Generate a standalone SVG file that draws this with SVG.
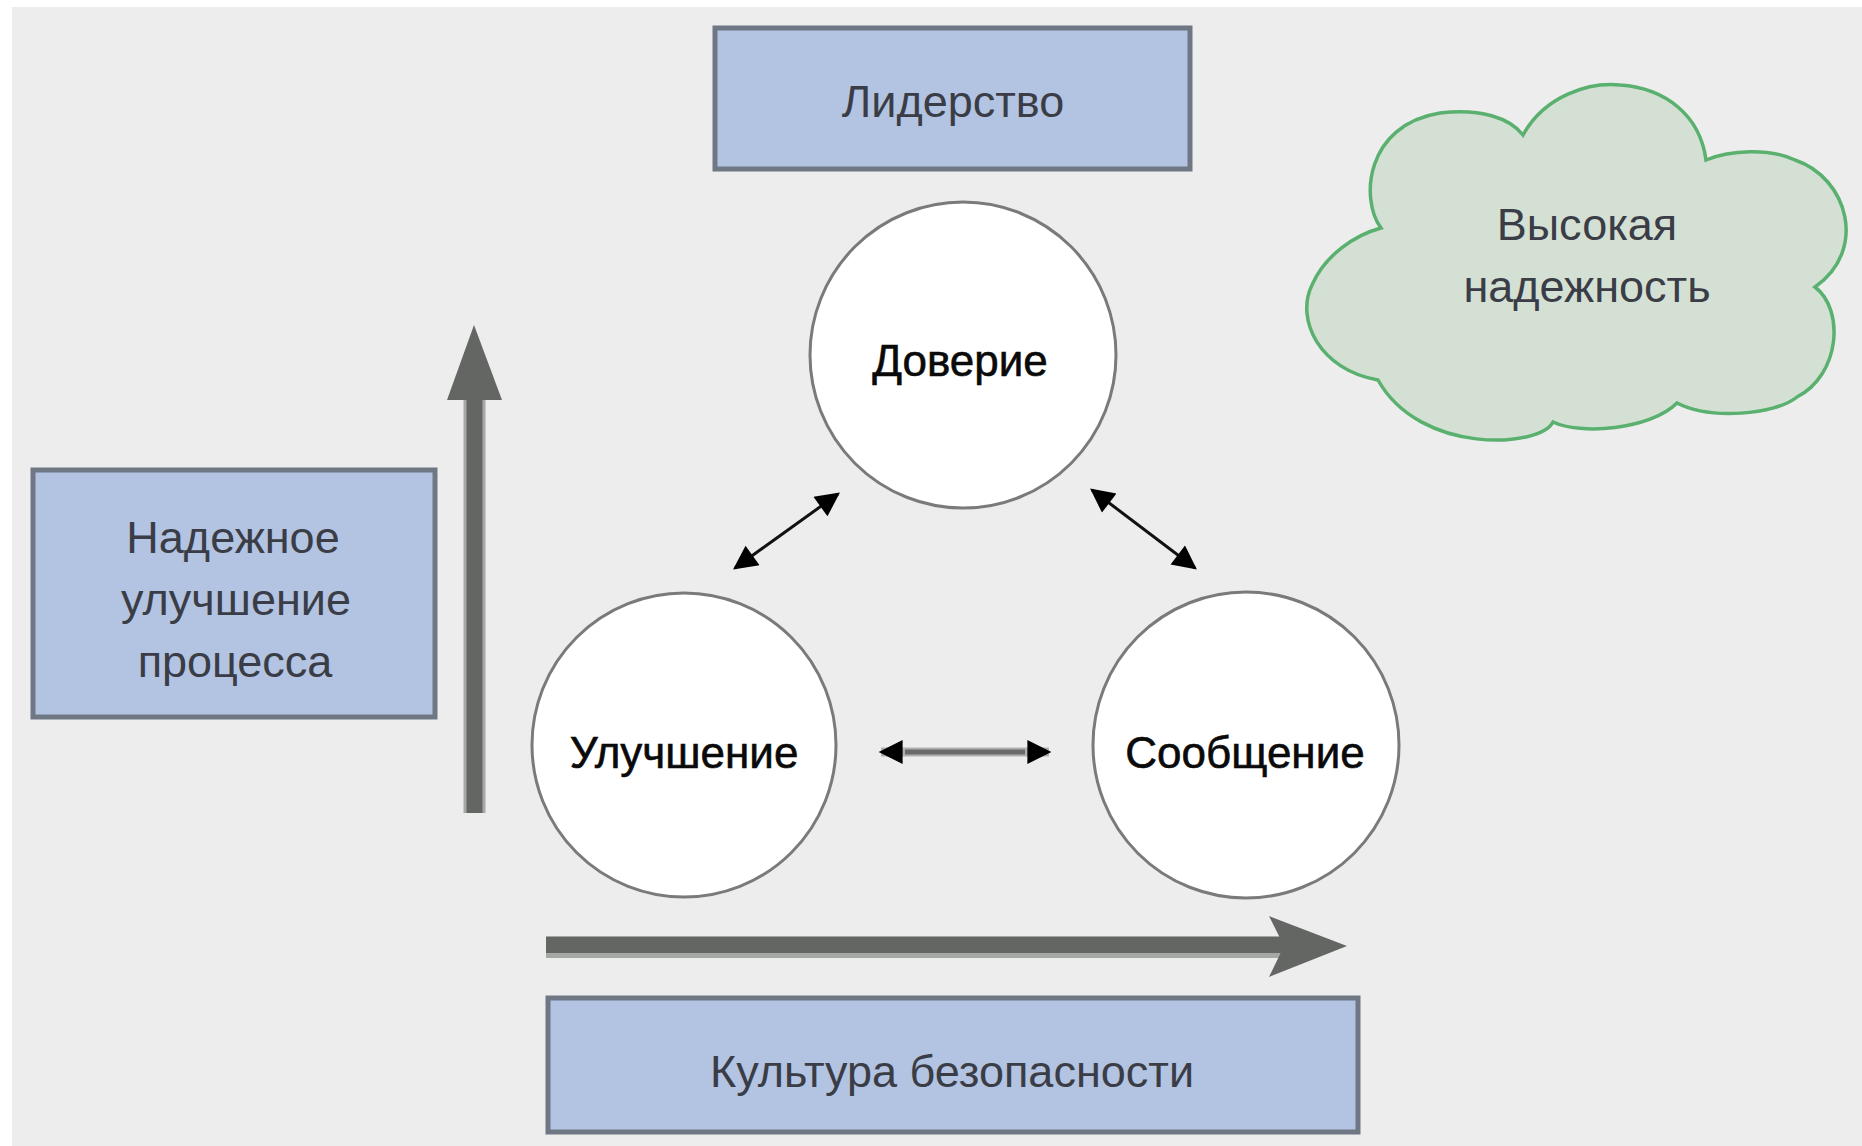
<svg xmlns="http://www.w3.org/2000/svg" width="1862" height="1146" viewBox="0 0 1862 1146">
<defs>
<style>
.box{fill:#b3c3e2;stroke:#6f7684;stroke-width:5}
.circ{fill:#ffffff;stroke:#7a7a7a;stroke-width:3}
.cloud{fill:#d5e0d5;stroke:#5ab06e;stroke-width:3.5}
.t{font-family:"Liberation Sans",Arial,sans-serif;font-size:45px;fill:#3a3d46;text-anchor:middle}
.tc{font-family:"Liberation Sans",Arial,sans-serif;font-size:44px;fill:#0a0a0a;stroke:#0a0a0a;stroke-width:0.6;text-anchor:middle}
.thin{stroke:#111;stroke-width:3;fill:none}
.thick{stroke:#646664;stroke-width:16;fill:none}
.thickedge{stroke:#a6a8a6;stroke-width:22;fill:none}
</style>
<marker id="ah" viewBox="0 0 10 10" refX="9" refY="5" markerUnits="userSpaceOnUse" markerWidth="26" markerHeight="24" orient="auto-start-reverse">
<path d="M0,0 L10,5 L0,10 Z" fill="#000"/>
</marker>
</defs>
<rect x="12" y="7" width="1850" height="1139" fill="#ededed"/>
<g id="connectors">
<line class="thin" x1="838" y1="494" x2="735" y2="568" marker-start="url(#ah)" marker-end="url(#ah)"/>
<line class="thin" x1="1092" y1="490" x2="1195" y2="568" marker-start="url(#ah)" marker-end="url(#ah)"/>
<line x1="881" y1="752" x2="1049" y2="752" stroke="#b0b0b0" stroke-width="9" marker-start="url(#ah)" marker-end="url(#ah)"/>
<line x1="905" y1="752" x2="1025" y2="752" stroke="#6a6a6a" stroke-width="5"/>
<line class="thickedge" x1="474.5" y1="398" x2="474.5" y2="813"/>
<line class="thick" x1="474.5" y1="398" x2="474.5" y2="813"/>
<path d="M474,325 L502,400 L447,400 Z" fill="#646664"/>
<line class="thickedge" x1="546" y1="947" x2="1290" y2="947"/>
<line class="thick" x1="546" y1="945" x2="1290" y2="945"/>
<path d="M1269,916 L1347,946 L1269,977 L1284,946 Z" fill="#646664"/>
</g>
<g id="leadership">
<rect class="box" x="715" y="28" width="475" height="141"/>
<text class="t" x="953" y="117">Лидерство</text>
</g>
<g id="high-reliability">
<path class="cloud" d="M1381,228 C1360,200 1365,125 1440,113 C1480,108 1510,118 1523,135 C1545,95 1590,82 1620,85 C1665,88 1700,115 1706,160 C1730,150 1770,148 1795,160 C1848,178 1868,250 1815,287 C1845,310 1840,375 1797,397 C1775,415 1710,420 1677,403 C1650,430 1580,435 1553,422 C1540,448 1420,455 1378,380 C1320,370 1295,320 1312,285 C1325,255 1355,235 1381,228 Z"/>
<text class="t" x="1587" y="240" font-size="42">Высокая</text>
<text class="t" x="1587" y="302" font-size="43">надежность</text>
</g>
<g id="trust">
<circle class="circ" cx="963" cy="355" r="153"/>
<text class="tc" x="960" y="376">Доверие</text>
</g>
<g id="improvement">
<circle class="circ" cx="684" cy="745" r="152"/>
<text class="tc" x="684" y="768">Улучшение</text>
</g>
<g id="communication">
<circle class="circ" cx="1246" cy="745" r="153"/>
<text class="tc" x="1245" y="768">Сообщение</text>
</g>
<g id="process-improvement">
<rect class="box" x="33" y="470" width="402" height="247"/>
<text class="t" x="233" y="553">Надежное</text>
<text class="t" x="236" y="615">улучшение</text>
<text class="t" x="235" y="677">процесса</text>
</g>
<g id="safety-culture">
<rect class="box" x="548" y="998" width="810" height="134"/>
<text class="t" x="952" y="1087">Культура безопасности</text>
</g>
</svg>
